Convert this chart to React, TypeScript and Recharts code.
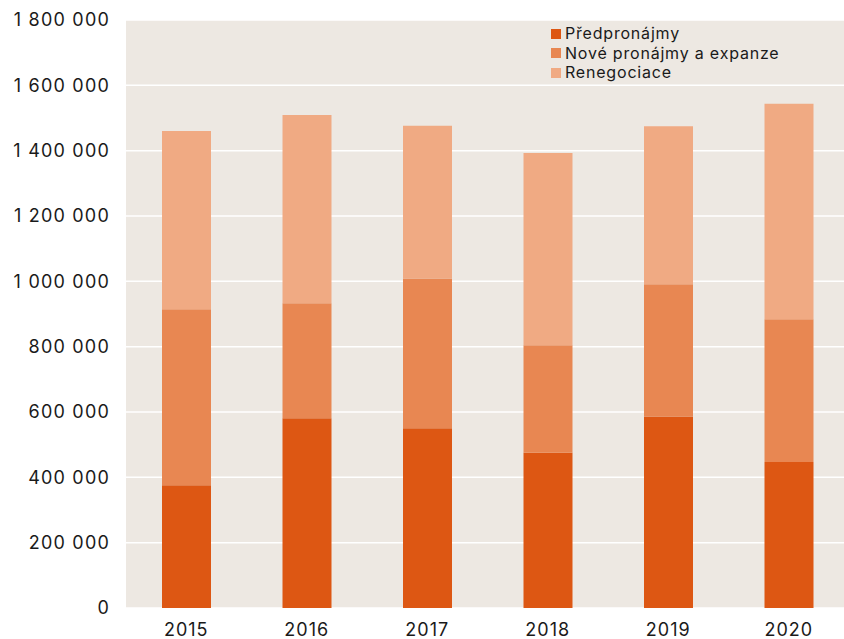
import React from 'react';
import { BarChart, Bar, XAxis, YAxis, CartesianGrid, Legend } from 'recharts';

const years = ['2015', '2016', '2017', '2018', '2019', '2020'];
const predpronajmy = [375500, 581000, 550000, 475000, 586000, 447000];
const novePronajmy = [539000, 352000, 459000, 329000, 405000, 437000];
const renegociace = [546000, 576000, 467000, 589000, 484000, 660000];
const yTicks = [0, 200000, 400000, 600000, 800000, 1000000, 1200000, 1400000, 1600000, 1800000];
const boundaryTicks = [0, 1, 2, 3, 4, 5, 6];

const seriesNames = ['Předpronájmy', 'Nové pronájmy a expanze', 'Renegociace'];
const colors = ['#dd5713', '#e88752', '#f0aa83'];

const data = years.map((y, i) => ({
  year: y,
  a: predpronajmy[i],
  b: novePronajmy[i],
  c: renegociace[i],
}));

const FONT = 'Inter, "Noto Sans", sans-serif';

const fmt = (v: number) => String(v).replace(/\B(?=(\d{3})+(?!\d))/g, ' ');

const LegendContent = () => (
  <div style={{ fontFamily: FONT, fontSize: 16, letterSpacing: 0.8, color: '#1a1a1a', lineHeight: '19.5px' }}>
    {seriesNames.map((n, i) => (
      <div key={n} style={{ display: 'flex', alignItems: 'center' }}>
        <span style={{ display: 'inline-block', width: 10, height: 10, background: colors[i], marginRight: 4 }} />
        <span>{n}</span>
      </div>
    ))}
  </div>
);

export default function App() {
  return (
    <div style={{ position: 'absolute', left: 0, top: 0, width: 844, height: 639, overflow: 'hidden', background: '#fff' }}>
      <BarChart width={850} height={639} data={data} margin={{ top: 20, right: 1, left: 0, bottom: 0 }}>
        <CartesianGrid vertical={false} stroke="#ffffff" strokeWidth={1.5} fill="#ede8e2" />
        <XAxis
          dataKey="year"
          xAxisId="cat"
          height={31}
          tickSize={0}
          tickMargin={15}
          axisLine={false}
          tickLine={false}
          tick={{ fill: '#1a1a1a', fontSize: 18, fontFamily: FONT, letterSpacing: 1 }}
        />
        <XAxis
          xAxisId="bnd"
          type="number"
          domain={[0, 6]}
          ticks={boundaryTicks}
          mirror
          tick={false}
          axisLine={false}
          tickLine={{ stroke: '#ffffff', strokeWidth: 1.5 }}
          tickSize={5}
          height={31}
        />
        <YAxis
          width={126}
          domain={[0, 1800000]}
          ticks={yTicks}
          tickFormatter={fmt}
          tickSize={0}
          tickMargin={16}
          axisLine={false}
          tickLine={false}
          interval={0}
          tick={{ fill: '#1a1a1a', fontSize: 18, fontFamily: FONT, letterSpacing: 1.2 }}
        />
        <Legend
          verticalAlign="middle"
          align="center"
          layout="horizontal"
          content={<LegendContent />}
          wrapperStyle={{ position: 'absolute', left: 551, top: 24, width: 290, height: 60 }}
        />
        <Bar xAxisId="cat" dataKey="a" name={seriesNames[0]} stackId="s" fill={colors[0]} barSize={49} isAnimationActive={false} />
        <Bar xAxisId="cat" dataKey="b" name={seriesNames[1]} stackId="s" fill={colors[1]} barSize={49} isAnimationActive={false} />
        <Bar xAxisId="cat" dataKey="c" name={seriesNames[2]} stackId="s" fill={colors[2]} barSize={49} isAnimationActive={false} />
      </BarChart>
    </div>
  );
}
